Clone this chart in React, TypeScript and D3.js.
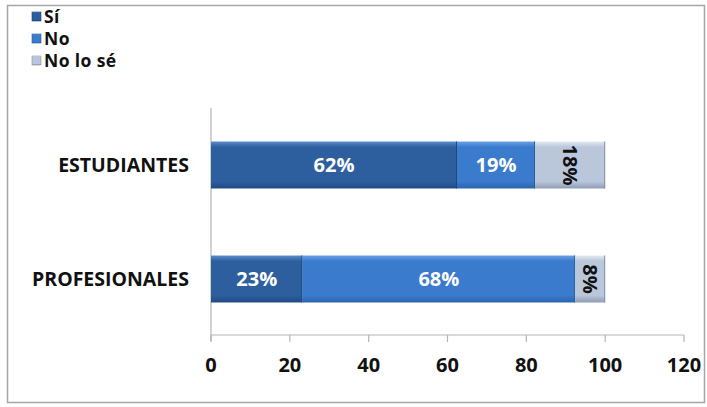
import React from "react";
import * as d3 from "d3";

const categories = ["ESTUDIANTES", "PROFESIONALES"];
const seriesNames = ["Sí", "No", "No lo sé"];
const siValues = [62.4, 23.2];
const noValues = [19.8, 69.2];
const noSeValues = [17.8, 7.6];
const siLabels = ["62%", "23%"];
const noLabels = ["19%", "68%"];
const noSeLabels = ["18%", "8%"];
const xTicks = [0, 20, 40, 60, 80, 100, 120];

const W = 707;
const H = 407;
const FONT = "'Open Sans', 'Lato', sans-serif";

const palettes = [
  { id: "gSi", top: "#5b8ccf", base: "#2d5f9f", bottom: "#1f4a84", text: "#ffffff", edge: "#1e4478" },
  { id: "gNo", top: "#6aa0e6", base: "#3a7bcd", bottom: "#2a64ad", text: "#ffffff", edge: "#28609f" },
  { id: "gNs", top: "#e3e9f3", base: "#bac6da", bottom: "#8e9db5", text: "#111111", edge: "#8593a8" },
];

export default function App() {
  const x = d3.scaleLinear().domain([0, 120]).range([211, 684]);
  const y = d3
    .scaleBand<string>()
    .domain(categories)
    .range([108, 336])
    .paddingInner(0.588)
    .paddingOuter(0.294);

  const rows = categories.map((c, i) => ({
    cat: c,
    vals: [siValues[i], noValues[i], noSeValues[i]],
    labels: [siLabels[i], noLabels[i], noSeLabels[i]],
  }));

  const axisY = 335;
  const bw = y.bandwidth();

  return (
    <svg
      width={W}
      height={H}
      style={{ position: "absolute", left: 0, top: 0, background: "#fff" }}
      fontFamily={FONT}
    >
      <defs>
        {palettes.map((p) => (
          <linearGradient key={p.id} id={p.id} x1="0" y1="0" x2="0" y2="1">
            <stop offset="0" stopColor={p.top} />
            <stop offset="0.12" stopColor={p.base} />
            <stop offset="0.85" stopColor={p.base} />
            <stop offset="1" stopColor={p.bottom} />
          </linearGradient>
        ))}
      </defs>
      <rect x={7.5} y={5.5} width={697} height={397} fill="#fff" stroke="#a6a6a6" strokeWidth={1.5} />

      {/* legend */}
      {seriesNames.map((s, i) => (
        <g key={s} transform={`translate(32, ${16.5 + i * 22})`}>
          <rect x={0} y={-4.5} width={9} height={9} fill={`url(#${palettes[i].id})`} stroke={palettes[i].edge} strokeWidth={0.6} />
          <text x={12} y={0} dy="0.36em" fontSize={17.5} fontWeight={700} letterSpacing={0.4} fill="#111">
            {s}
          </text>
        </g>
      ))}

      {/* y axis */}
      <line x1={x(0)} x2={x(0)} y1={108} y2={axisY + 6} stroke="#b5b5b5" strokeWidth={1.2} />
      {/* x axis */}
      <line x1={x(0)} x2={x(120)} y1={axisY} y2={axisY} stroke="#b5b5b5" strokeWidth={1.2} />
      {xTicks.map((t) => (
        <g key={t}>
          <line x1={x(t)} x2={x(t)} y1={axisY} y2={axisY + 7} stroke="#b5b5b5" strokeWidth={1.2} />
          <text x={x(t)} y={365} dy="0.36em" textAnchor="middle" fontSize={20} fontWeight={700} fill="#111">
            {t}
          </text>
        </g>
      ))}

      {rows.map((r) => {
        const yTop = y(r.cat)!;
        let acc = 0;
        return (
          <g key={r.cat}>
            <text
              x={189}
              y={yTop + bw / 2}
              dy="0.36em"
              textAnchor="end"
              fontSize={19.5}
              fontWeight={700}
              fill="#111"
            >
              {r.cat}
            </text>
            {r.vals.map((v, j) => {
              const x0 = x(acc);
              acc += v;
              const x1 = x(acc);
              const cx = (x0 + x1) / 2;
              const cy = yTop + bw / 2;
              const p = palettes[j];
              return (
                <g key={j}>
                  <rect x={x0} y={yTop} width={x1 - x0} height={bw} fill={`url(#${p.id})`} />
                  <line x1={x1 - 0.5} x2={x1 - 0.5} y1={yTop} y2={yTop + bw} stroke={p.edge} strokeWidth={1} />
                  {j === 2 ? (
                    <text
                      transform={`translate(${cx},${cy}) rotate(90)`}
                      dy="0.36em"
                      textAnchor="middle"
                      fontSize={20}
                      fontWeight={700}
                      fill={p.text}
                    >
                      {r.labels[j]}
                    </text>
                  ) : (
                    <text x={cx} y={cy} dy="0.36em" textAnchor="middle" fontSize={20} fontWeight={700} fill={p.text}>
                      {r.labels[j]}
                    </text>
                  )}
                </g>
              );
            })}
          </g>
        );
      })}
    </svg>
  );
}
